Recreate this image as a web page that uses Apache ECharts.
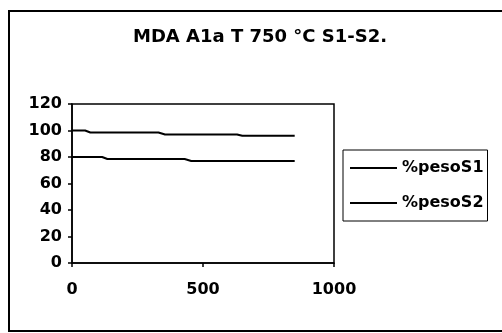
<!DOCTYPE html>
<html>
<head>
<meta charset="utf-8">
<script src="https://cdn.jsdelivr.net/npm/echarts@6/dist/echarts.min.js"></script>
<style>
  html, body { margin: 0; padding: 0; background: #fff; }
</style>
</head>
<body>
<div id="chart" style="width:502px;height:333px"></div>
<script>
// tiempo (x) y % peso para cada serie
var timeS1 = [0, 50, 70, 330, 355, 630, 650, 850];
var pesoS1 = [100, 100, 98.5, 98.5, 97, 97, 96, 96];
var timeS2 = [0, 115, 135, 430, 455, 850];
var pesoS2 = [80, 80, 78.5, 78.5, 77, 77];
var seriesNames = ["%pesoS1", "%pesoS2"];
var titleText = "MDA A1a T 750 °C S1-S2.";

function pairs(xs, ys) {
  return xs.map(function(x, i) { return [x, ys[i]]; });
}

var font = "DejaVu Sans";
var lineIcon = "path://M0,0H47V2H0Z";

var chart = echarts.init(document.getElementById("chart"), null, { renderer: "canvas" });
chart.setOption({
  backgroundColor: "#fff",
  animation: false,
  title: {
    text: titleText,
    left: 128,
    top: 23,
    textStyle: { fontFamily: font, fontWeight: "bold", fontSize: 18, color: "#000" }
  },
  graphic: [
    {
      type: "rect",
      shape: { x: 9, y: 11, width: 520, height: 320 },
      style: { fill: null, stroke: "#000", lineWidth: 2 }
    }
  ],
  legend: {
    orient: "vertical",
    left: 343,
    top: 150,
    itemWidth: 47,
    itemHeight: 16,
    itemGap: 19,
    padding: [10, 4, 10, 7],
    borderColor: "#000",
    borderWidth: 1,
    data: [
      { name: seriesNames[0], icon: lineIcon },
      { name: seriesNames[1], icon: lineIcon }
    ],
    textStyle: { fontFamily: font, fontWeight: "bold", fontSize: 16, color: "#000" }
  },
  grid: {
    left: 72,
    right: 168,
    top: 104,
    bottom: 70,
    show: true,
    borderColor: "#000",
    borderWidth: 1.5
  },
  xAxis: {
    type: "value",
    min: 0,
    max: 1000,
    interval: 500,
    axisLine: { show: true, lineStyle: { color: "#000", width: 1.5 } },
    axisTick: { show: true, length: 4, lineStyle: { color: "#000", width: 1.5 } },
    splitLine: { show: false },
    axisLabel: {
      margin: 19, fontFamily: font, fontWeight: "bold", fontSize: 16, color: "#000",
      formatter: function(v) { return String(v); }
    }
  },
  yAxis: {
    type: "value",
    min: 0,
    max: 120,
    interval: 20,
    axisLine: { show: true, lineStyle: { color: "#000", width: 1.5 } },
    axisTick: { show: true, length: 4, lineStyle: { color: "#000", width: 1.5 } },
    splitLine: { show: false },
    axisLabel: { margin: 10, fontFamily: font, fontWeight: "bold", fontSize: 16, color: "#000" }
  },
  series: [
    {
      name: seriesNames[0],
      type: "line",
      symbol: "none",
      data: pairs(timeS1, pesoS1),
      lineStyle: { color: "#000", width: 2 },
      itemStyle: { color: "#000" }
    },
    {
      name: seriesNames[1],
      type: "line",
      symbol: "none",
      data: pairs(timeS2, pesoS2),
      lineStyle: { color: "#000", width: 2 },
      itemStyle: { color: "#000" }
    }
  ]
});
</script>
</body>
</html>
